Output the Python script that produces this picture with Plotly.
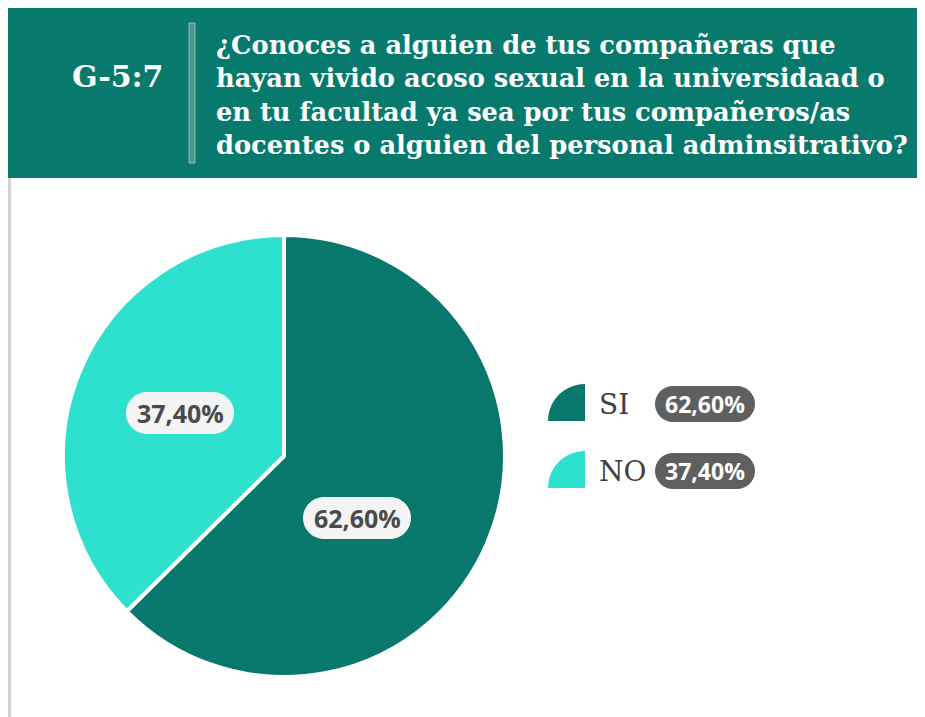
import plotly.graph_objects as go

# ---------------- data ----------------
categories = ["SI", "NO"]
values = [62.60, 37.40]
value_labels = ["62,60%", "37,40%"]
colors = ["#07786B", "#2EE0CE"]
chart_code = "G-5:7"
question_lines = [
    "¿Conoces a alguien de tus compañeras que",
    "hayan vivido acoso sexual en la universidaad o",
    "en tu facultad ya sea por tus compañeros/as",
    "docentes o alguien del personal adminsitrativo?",
]

# ---------------- layout helpers (screen pixel -> paper) ----------------
W, H = 925, 717
OFF = 8  # page body margin offset of the plot div


def px(x):
    return (x - OFF) / W


def py(y):
    return 1 - (y - OFF) / H


K = 0.5523


def pill_path(x0, y0, x1, y1):
    r = (y1 - y0) / 2
    yc = (y0 + y1) / 2
    pts = [
        ("M", [(x0 + r, y0)]),
        ("L", [(x1 - r, y0)]),
        ("C", [(x1 - r + K * r, y0), (x1, yc - K * r), (x1, yc)]),
        ("C", [(x1, yc + K * r), (x1 - r + K * r, y1), (x1 - r, y1)]),
        ("L", [(x0 + r, y1)]),
        ("C", [(x0 + r - K * r, y1), (x0, yc + K * r), (x0, yc)]),
        ("C", [(x0, yc - K * r), (x0 + r - K * r, y0), (x0 + r, y0)]),
    ]
    s = ""
    for cmd, ps in pts:
        s += cmd + " ".join(f"{px(a):.5f},{py(b):.5f}" for a, b in ps) + " "
    return s + "Z"


def quarter_path(cx, cy, r):
    s = f"M{px(cx):.5f},{py(cy):.5f} L{px(cx):.5f},{py(cy - r):.5f} "
    s += (f"C{px(cx - K * r):.5f},{py(cy - r):.5f} {px(cx - r):.5f},{py(cy - K * r):.5f} "
          f"{px(cx - r):.5f},{py(cy):.5f} Z")
    return s


# pie geometry (screen pixels)
CX, CY, R = 284, 456, 221

fig = go.Figure()
fig.add_trace(go.Pie(
    labels=categories,
    values=values,
    sort=False,
    direction="clockwise",
    rotation=0,
    marker=dict(colors=colors, line=dict(color="white", width=4)),
    textinfo="none",
    hoverinfo="label+percent",
    showlegend=False,
    domain=dict(x=[px(CX - R), px(CX + R)], y=[py(CY + R), py(CY - R)]),
))

shapes = []
annotations = []

# header band
shapes.append(dict(type="rect", xref="paper", yref="paper",
                   x0=px(8), x1=1.02, y0=py(178), y1=py(7),
                   fillcolor="#077A6D", line=dict(width=0), layer="below"))
# left border
shapes.append(dict(type="rect", xref="paper", yref="paper",
                   x0=px(8), x1=px(11), y0=-0.02, y1=py(178),
                   fillcolor="#D3D3D3", line=dict(width=0), layer="below"))
# separator
shapes.append(dict(type="rect", xref="paper", yref="paper",
                   x0=px(189), x1=px(195), y0=py(163), y1=py(23),
                   fillcolor="rgba(255,255,255,0.25)",
                   line=dict(color="rgba(190,190,190,0.8)", width=1), layer="below"))

annotations.append(dict(xref="paper", yref="paper", x=px(117), y=py(76),
                        text=f"<b>{chart_code}</b>", showarrow=False,
                        xanchor="center", yanchor="middle",
                        font=dict(family="DejaVu Serif", size=30, color="white")))
annotations.append(dict(xref="paper", yref="paper", x=px(214), y=py(95),
                        text="<b>" + "<br>".join(question_lines) + "</b>",
                        showarrow=False, align="left",
                        xanchor="left", yanchor="middle",
                        font=dict(family="DejaVu Serif", size=25.7, color="white")))

# in-pie label pills
label_pos = [(357, 518), (180, 413)]
for (lx, ly), txt in zip(label_pos, value_labels):
    shapes.append(dict(type="path", xref="paper", yref="paper",
                       path=pill_path(lx - 54, ly - 21, lx + 54, ly + 21),
                       fillcolor="#F4F4F4", line=dict(width=0), layer="above"))
    annotations.append(dict(xref="paper", yref="paper", x=px(lx), y=py(ly),
                            text=f"<b>{txt}</b>", showarrow=False,
                            xanchor="center", yanchor="middle",
                            font=dict(family="Open Sans", size=25, color="#4A4A4A")))

# custom legend
legend_rows = [404, 471]
for rowy, cat, col, txt in zip(legend_rows, categories, colors, value_labels):
    shapes.append(dict(type="path", xref="paper", yref="paper",
                       path=quarter_path(585, rowy + 17, 37),
                       fillcolor=col, line=dict(width=0), layer="above"))
    annotations.append(dict(xref="paper", yref="paper", x=px(597), y=py(rowy),
                            text=cat, showarrow=False,
                            xanchor="left", yanchor="middle",
                            font=dict(family="DejaVu Serif", size=28, color="#3F3F3F")))
    shapes.append(dict(type="path", xref="paper", yref="paper",
                       path=pill_path(655, rowy - 18, 755, rowy + 18),
                       fillcolor="#5F5F5F", line=dict(width=0), layer="above"))
    annotations.append(dict(xref="paper", yref="paper", x=px(705), y=py(rowy),
                            text=f"<b>{txt}</b>", showarrow=False,
                            xanchor="center", yanchor="middle",
                            font=dict(family="Open Sans", size=23, color="white")))

fig.update_layout(
    width=W, height=H,
    margin=dict(l=0, r=0, t=0, b=0),
    paper_bgcolor="white", plot_bgcolor="white",
    shapes=shapes, annotations=annotations,
)

fig.write_html("out.html")
